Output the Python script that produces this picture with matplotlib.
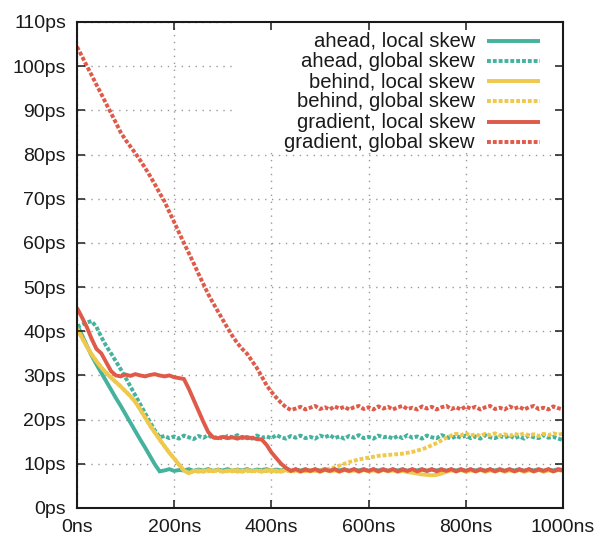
import matplotlib
matplotlib.use("Agg")
import matplotlib.pyplot as plt
from matplotlib.patches import Rectangle

time_ns = list(range(0, 1001, 10))

ahead_local = [41.5, 39.2, 36.8, 34.5, 32.5, 30.6, 28.7, 26.8, 24.9, 23.1,
               21.2, 19.3, 17.4, 15.5, 13.7, 11.8, 9.9, 8.3, 8.5, 8.8,
               8.4, 8.6, 8.5, 8.8, 8.4, 8.7, 8.5, 8.8, 8.4, 8.7,
               8.5, 8.8, 8.4, 8.7, 8.5, 8.8, 8.4, 8.7, 8.6, 8.8,
               8.4, 8.7, 8.5, 8.8, 8.4, 8.7, 8.5, 8.8, 8.4, 8.7,
               8.5, 8.8, 8.4, 8.7, 8.5, 8.8, 8.4, 8.7, 8.5, 8.8,
               8.4, 8.7, 8.5, 8.8, 8.4, 8.7, 8.5, 8.8, 8.4, 8.7,
               8.5, 8.8, 8.4, 8.7, 8.5, 8.8, 8.4, 8.7, 8.5, 8.8,
               8.4, 8.7, 8.5, 8.8, 8.4, 8.7, 8.5, 8.8, 8.4, 8.7,
               8.5, 8.8, 8.4, 8.7, 8.5, 8.8, 8.4, 8.7, 8.5, 8.8,
               8.6]

ahead_global = [41.0, 41.5, 42.0, 42.3, 41.0, 38.7, 36.7, 35.0, 33.2, 31.4,
                29.5, 27.5, 25.5, 23.5, 21.5, 19.5, 17.6, 16.0, 16.3, 15.8,
                16.2, 15.7, 16.4, 16.0, 15.6, 16.3, 15.9, 16.5, 15.8, 16.1,
                15.7, 16.3, 16.0, 16.5, 15.8, 16.1, 15.7, 16.4, 15.9, 16.2,
                15.8, 16.5, 16.0, 15.7, 16.3, 15.9, 16.4, 15.8, 16.1, 15.7,
                16.4, 16.0, 16.5, 15.8, 16.2, 15.7, 16.3, 15.9, 16.5, 15.8,
                16.1, 15.7, 16.4, 16.0, 16.2, 15.7, 16.3, 15.8, 16.5, 15.9,
                16.2, 15.7, 16.4, 16.0, 15.8, 16.5, 16.1, 15.7, 16.3, 15.9,
                16.4, 15.8, 16.2, 15.7, 16.5, 16.0, 15.8, 16.3, 15.9, 16.4,
                15.8, 16.2, 15.7, 16.4, 16.0, 15.8, 16.5, 15.9, 16.1, 15.7,
                15.4]

behind_local = [40.7, 38.6, 36.6, 34.8, 33.2, 31.8, 30.6, 29.5, 28.5, 27.5,
                26.4, 25.3, 24.0, 22.3, 20.5, 18.7, 17.1, 15.5, 14.0, 12.5,
                11.2, 9.8, 8.5, 7.9, 8.3, 8.5, 8.2, 8.6, 8.3, 8.6,
                8.2, 8.5, 8.3, 8.6, 8.2, 8.6, 8.3, 8.5, 8.2, 8.6,
                8.3, 8.5, 8.2, 8.6, 8.3, 8.5, 8.2, 8.6, 8.3, 8.5,
                8.2, 8.6, 8.3, 8.5, 8.2, 8.6, 8.3, 8.5, 8.2, 8.6,
                8.3, 8.5, 8.2, 8.6, 8.3, 8.5, 8.2, 8.4, 8.1, 8.0,
                7.8, 7.6, 7.5, 7.4, 7.5, 7.8, 8.2, 8.5, 8.3, 8.6,
                8.2, 8.5, 8.3, 8.6, 8.2, 8.5, 8.3, 8.6, 8.2, 8.5,
                8.3, 8.6, 8.2, 8.5, 8.3, 8.6, 8.2, 8.5, 8.3, 8.6,
                8.4]

behind_global = [40.7, 38.6, 36.6, 34.8, 33.2, 31.8, 30.6, 29.5, 28.5, 27.5,
                 26.4, 25.3, 24.0, 22.3, 20.5, 18.7, 17.1, 15.5, 14.0, 12.5,
                 11.2, 9.8, 8.5, 7.9, 8.4, 8.2, 8.5, 8.3, 8.6, 8.2,
                 8.5, 8.3, 8.6, 8.2, 8.5, 8.3, 8.6, 8.2, 8.5, 8.3,
                 8.6, 8.2, 8.5, 8.3, 8.6, 8.2, 8.5, 8.3, 8.6, 8.4,
                 8.5, 8.7, 8.9, 9.2, 9.6, 10.0, 10.4, 10.7, 11.0, 11.2,
                 11.4, 11.6, 11.8, 11.9, 12.0, 12.1, 12.2, 12.3, 12.5, 12.7,
                 13.0, 13.3, 13.7, 14.2, 14.7, 15.3, 15.9, 16.4, 16.8, 16.5,
                 16.9, 16.4, 16.7, 16.3, 16.8, 16.5, 16.9, 16.4, 16.7, 16.3,
                 16.8, 16.5, 16.9, 16.4, 16.7, 16.3, 16.8, 16.5, 16.9, 16.6,
                 16.8]

gradient_local = [45.3, 43.2, 41.0, 38.3, 36.0, 35.0, 33.0, 31.0, 30.0, 29.8,
                  30.2, 29.9, 30.3, 30.0, 29.8, 30.1, 30.3, 30.0, 29.8, 30.0,
                  29.6, 29.4, 29.2, 27.0, 24.5, 22.0, 19.5, 17.2, 16.0, 15.8,
                  16.1, 15.8, 16.0, 15.7, 16.1, 15.8, 15.9, 15.6, 15.5, 14.3,
                  12.6, 11.3, 10.0, 9.1, 8.4, 8.8, 8.3, 8.7, 8.4, 8.8,
                  8.3, 8.7, 8.4, 8.8, 8.3, 8.7, 8.4, 8.8, 8.3, 8.7,
                  8.4, 8.8, 8.3, 8.7, 8.4, 8.8, 8.3, 8.7, 8.4, 8.8,
                  8.3, 8.7, 8.4, 8.8, 8.3, 8.7, 8.4, 8.8, 8.3, 8.7,
                  8.4, 8.8, 8.3, 8.7, 8.4, 8.8, 8.3, 8.7, 8.4, 8.8,
                  8.3, 8.7, 8.4, 8.8, 8.3, 8.7, 8.4, 8.8, 8.3, 8.7,
                  8.5]

gradient_global = [104.4, 102.3, 100.1, 98.0, 95.8, 93.7, 91.5, 89.4, 87.2, 85.0,
                   83.3, 81.8, 80.3, 78.7, 77.0, 75.2, 73.3, 71.3, 69.4, 67.0,
                   64.7, 62.3, 60.0, 57.7, 55.4, 53.0, 50.7, 48.4, 46.4, 44.5,
                   42.6, 40.7, 38.9, 37.3, 36.0, 34.9, 33.3, 31.7, 29.8, 27.8,
                   26.3, 25.0, 23.8, 22.8, 22.2, 22.5, 22.9, 22.3, 22.7, 23.1,
                   22.4, 22.8, 22.3, 23.0, 22.5, 22.9, 22.3, 22.8, 23.1, 22.4,
                   22.8, 22.3, 23.0, 22.5, 22.9, 22.3, 22.8, 23.1, 22.4, 22.7,
                   22.3, 23.0, 22.5, 22.9, 22.3, 22.8, 23.1, 22.4, 22.8, 22.3,
                   23.0, 22.5, 22.9, 22.3, 22.8, 23.1, 22.4, 22.7, 22.3, 23.0,
                   22.5, 22.9, 22.3, 22.8, 23.1, 22.4, 22.7, 22.3, 23.0, 22.6,
                   22.3]

series_labels = ["ahead, local skew", "ahead, global skew",
                 "behind, local skew", "behind, global skew",
                 "gradient, local skew", "gradient, global skew"]
series_values = [ahead_local, ahead_global, behind_local, behind_global,
                 gradient_local, gradient_global]
series_colors = ["#45B29D", "#45B29D", "#EFC94C", "#EFC94C", "#DF5A49", "#DF5A49"]
series_dotted = [False, True, False, True, False, True]

x_ticks = [0, 200, 400, 600, 800, 1000]
x_tick_labels = ["0ns", "200ns", "400ns", "600ns", "800ns", "1000ns"]
y_ticks = list(range(0, 111, 10))
y_tick_labels = [f"{v}ps" for v in y_ticks]

plt.rcParams["font.family"] = ["Liberation Sans", "DejaVu Sans"]

W, H = 598, 551
fig = plt.figure(figsize=(W / 100, H / 100), dpi=100)
L, R, T, B = 77, 563, 22, 508
rect = [L / W, 1 - B / H, (R - L) / W, (B - T) / H]

# grid/data axes
ax = fig.add_axes(rect)
ax.set_xlim(0, 1000)
ax.set_ylim(0, 110)
ax.set_xticks(x_ticks)
ax.set_yticks(y_ticks)
ax.tick_params(length=0, labelbottom=False, labelleft=False)
for s in ax.spines.values():
    s.set_visible(False)
ax.set_axisbelow(True)
ax.grid(True, color="#9a9a9a", linestyle=(0, (1, 4)), linewidth=1.0)

# opaque key background
ax.add_patch(Rectangle(((233 - L) / (R - L), (B - 151) / (B - T)),
                       1 - (233 - L) / (R - L), 1 - (B - 151) / (B - T),
                       transform=ax.transAxes, facecolor="white",
                       edgecolor="none", zorder=1))

lw = 2.8
dotted = (0, (1.0, 0.5))
for vals, col, dot in zip(series_values, series_colors, series_dotted):
    ax.plot(time_ns, vals, color=col, lw=lw,
            linestyle=dotted if dot else "-",
            dash_capstyle="butt", solid_capstyle="butt",
            solid_joinstyle="miter", zorder=2)

# key (gnuplot style: right-aligned text, sample on the right)
tx = (475 - L) / (R - L)
lx0, lx1 = (487 - L) / (R - L), (540 - L) / (R - L)
for i, (lab, col, dot) in enumerate(zip(series_labels, series_colors, series_dotted)):
    py = 40.5 + 20.3 * i
    yf = (B - py) / (B - T)
    yb = (B - (py + 6)) / (B - T)
    ax.text(tx, yb, lab, transform=ax.transAxes, ha="right", va="baseline",
            fontsize=14.6, color="#1a1a1a", zorder=3)
    ax.plot([lx0, lx1], [yf, yf], transform=ax.transAxes, color=col, lw=lw,
            linestyle=dotted if dot else "-", dash_capstyle="butt",
            solid_capstyle="butt", zorder=3, clip_on=False)

# frame/tick overlay axes
ax2 = fig.add_axes(rect, sharex=ax, sharey=ax)
ax2.patch.set_visible(False)
ax2.set_xticks(x_ticks)
ax2.set_xticklabels(x_tick_labels)
ax2.set_yticks(y_ticks)
ax2.set_yticklabels(y_tick_labels)
ax2.tick_params(direction="in", length=5.8, width=1.1, top=True, right=True,
                labelsize=14, pad=8, colors="#1a1a1a")
for s in ax2.spines.values():
    s.set_linewidth(1.5)
    s.set_color("#1a1a1a")

fig.savefig("out.png", dpi=100)
